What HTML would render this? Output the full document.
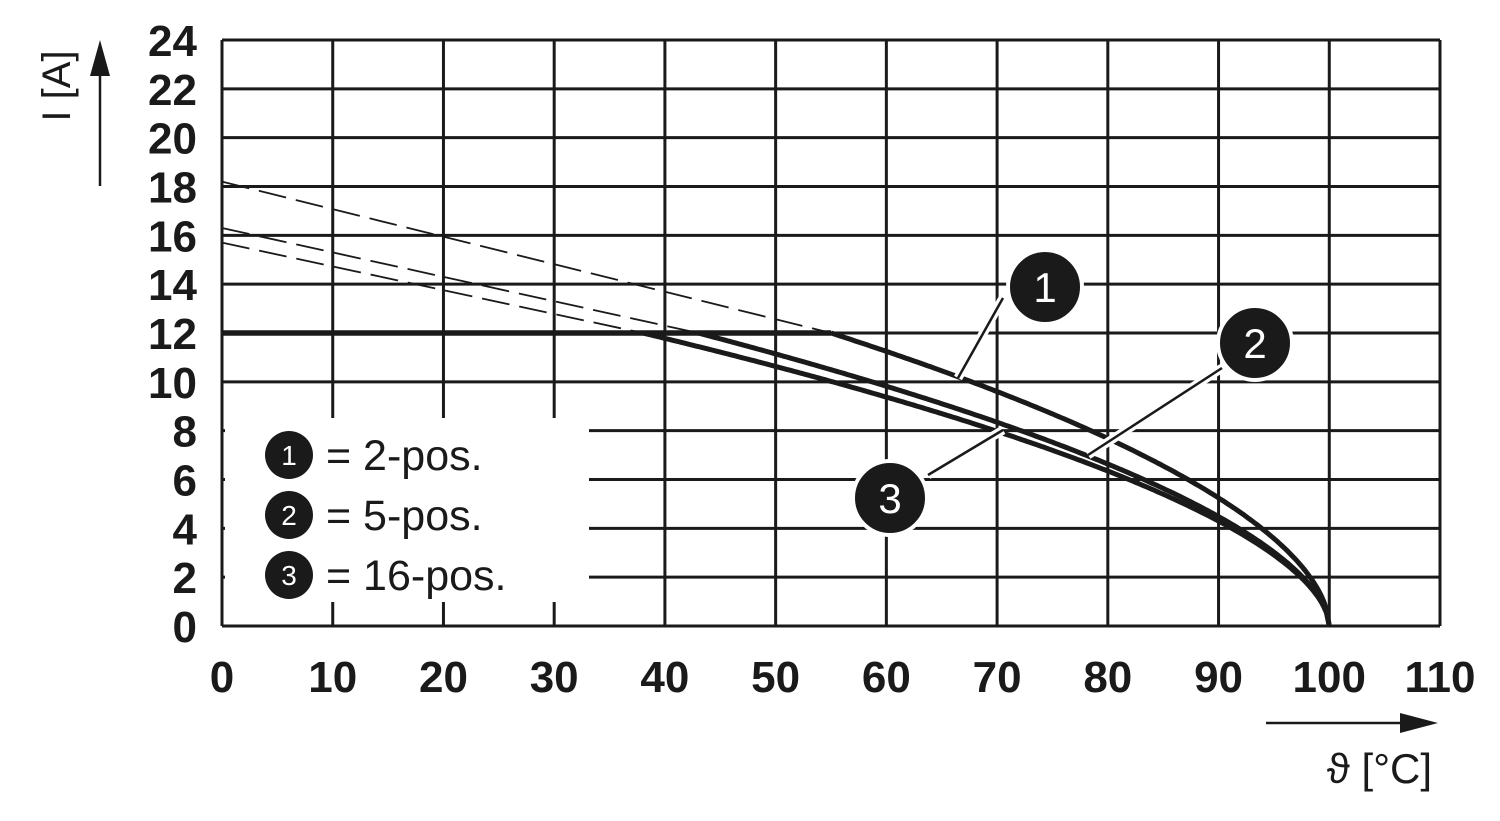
<!DOCTYPE html>
<html><head><meta charset="utf-8"><style>
html,body{margin:0;padding:0;background:#fff}
svg{display:block}
text{font-family:"Liberation Sans",sans-serif;fill:#1a1a1a}
.t{font-weight:bold;font-size:44px}
</style></head><body>
<svg id="s" width="1500" height="821" viewBox="0 0 1500 821" xmlns="http://www.w3.org/2000/svg"></svg>
<script>
const s=document.getElementById('s');
const X=v=>222+v*(1218/110), Y=v=>626-v*(586/24);
let h='';
for(let i=0;i<=11;i++){h+=`<line x1="${X(i*10)}" y1="40" x2="${X(i*10)}" y2="626" stroke="#1a1a1a" stroke-width="3"/>`;}
for(let j=0;j<=12;j++){h+=`<line x1="222" y1="${Y(j*2)}" x2="1440" y2="${Y(j*2)}" stroke="#1a1a1a" stroke-width="3"/>`;}
h+=`<rect x="225" y="418" width="364" height="184" fill="#fff"/>`;
for(let j=0;j<=12;j++)h+=`<text class="t" x="197" y="${Y(j*2)+16}" text-anchor="end">${j*2}</text>`;
for(let i=0;i<=11;i++)h+=`<text class="t" x="${X(i*10)}" y="692" text-anchor="middle">${i*10}</text>`;
const d=[[18.2,55],[16.3,43],[15.7,38]];
d.forEach(([a,t])=>{h+=`<line x1="222" y1="${Y(a)}" x2="${X(t)}" y2="${Y(12)}" stroke="#1a1a1a" stroke-width="1.8" stroke-dasharray="28,10"/>`;});
[[55,0.55],[43,0.566],[38,0.563]].forEach(([t,pw])=>{const k=12/Math.pow(100-t,pw);let p=`M${X(t)} ${Y(12)}`;for(let T=t;T<=100.001;T+=0.25){p+=` L${X(T).toFixed(1)} ${Y(k*Math.pow(Math.max(0,100-T),pw)).toFixed(1)}`;}h+=`<path d="${p}" fill="none" stroke="#1a1a1a" stroke-width="5"/>`;});
h+=`<line x1="222" y1="${Y(12)}" x2="${X(55)}" y2="${Y(12)}" stroke="#1a1a1a" stroke-width="5.5"/>`;
[[1003,298,958,378],[1222,368,1088,455],[928,475,1003,430]].forEach(([a,b,c,e])=>{h+=`<line x1="${a}" y1="${b}" x2="${c}" y2="${e}" stroke="#fff" stroke-width="9"/><line x1="${a}" y1="${b}" x2="${c}" y2="${e}" stroke="#1a1a1a" stroke-width="2.5"/>`;});
[[1045,287,'1'],[1255,343,'2'],[890,498,'3']].forEach(([x,y,n])=>{h+=`<circle cx="${x}" cy="${y}" r="37" fill="#1a1a1a" stroke="#fff" stroke-width="4"/><text x="${x}" y="${y+15}" text-anchor="middle" font-size="42" style="fill:#fff">${n}</text>`;});
[['1','2-pos.',455],['2','5-pos.',515],['3','16-pos.',575]].forEach(([n,l,y])=>{h+=`<circle cx="289" cy="${y}" r="24" fill="#1a1a1a"/><text x="289" y="${y+10}" text-anchor="middle" font-size="28" style="fill:#fff">${n}</text><text x="326" y="${y+15}" font-size="43">= ${l}</text>`;});
h+=`<line x1="100" y1="186" x2="100" y2="70" stroke="#1a1a1a" stroke-width="2.5"/><polygon points="100,40 90,76 110,76" fill="#1a1a1a"/>`;
h+=`<text x="70" y="86" font-size="40" text-anchor="middle" transform="rotate(-90 70 86)">I [A]</text>`;
h+=`<line x1="1266" y1="723" x2="1405" y2="723" stroke="#1a1a1a" stroke-width="2.5"/><polygon points="1438,723 1400,713 1400,733" fill="#1a1a1a"/>`;
h+=`<text x="1432" y="783" font-size="42" text-anchor="end">ϑ [°C]</text>`;
s.innerHTML=h;
</script>
</body></html>
